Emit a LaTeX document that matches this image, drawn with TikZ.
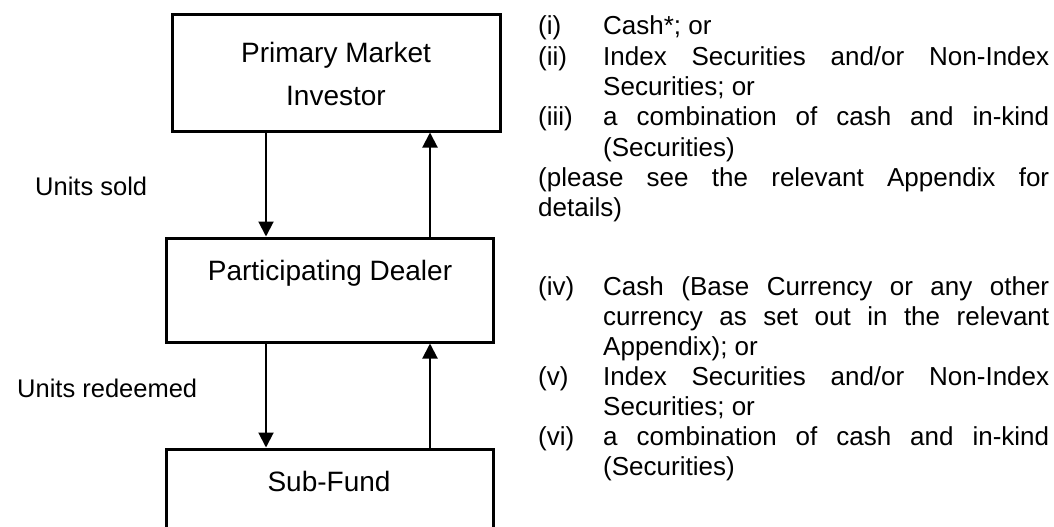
\documentclass[tikz,border=0pt]{standalone}
\usepackage{fontspec}
\setmainfont{Liberation Sans}
\usetikzlibrary{arrows.meta}
\newcommand\jline[1]{\makebox[446pt][s]{#1}}
\newcommand\lline[1]{\makebox[446pt][l]{#1}}
\newcommand\labx[1]{\makebox[65pt][l]{#1}}
\newcommand\indx{\hspace*{65pt}}
\begin{document}
\begin{tikzpicture}[x=1pt,y=-1pt,
  box/.style={draw=black, line width=3pt, rectangle, inner sep=0pt},
  boxtext/.style={font=\fontsize{28}{42}\selectfont, inner sep=0pt, anchor=base},
  lbl/.style={font=\fontsize{25.5}{30}\selectfont, inner sep=0pt, anchor=base west},
  opts/.style={font=\fontsize{26}{30.3}\selectfont, inner sep=0pt, anchor=base west},
  arr/.style={line width=2pt, -{Triangle[length=15pt,width=15pt]}}]
\useasboundingbox (0,0) rectangle (1054,527);
\clip (0,0) rectangle (1054,527);
% boxes
\node[box, minimum width=328pt, minimum height=116pt] (pm) at (336,73) {};
\node[box, minimum width=327pt, minimum height=104pt] (pd) at (329.5,290) {};
\node[box, minimum width=327pt, minimum height=111pt] (sf) at (329.5,504.5) {};
% box texts
\node[boxtext] (pmt1) at (336,63) {Primary Market};
\node[boxtext] (pmt2) at (336,105) {Investor};
\node[boxtext] (pdt) at (330,280) {Participating Dealer};
\node[boxtext] (sft) at (329,491) {Sub-Fund};
% arrow columns
\coordinate (dn) at (266,0);
\coordinate (up) at (430,0);
\draw[arr] (pm.south -| dn) -- (pd.north -| dn);
\draw[arr] (pd.north -| up) -- (pm.south -| up);
\draw[arr] (pd.south -| dn) -- (sf.north -| dn);
\draw[arr] (sf.north -| up) -- (pd.south -| up);
% side labels
\node[lbl] (sold) at (35,195) {Units sold};
\node[lbl] (redeemed) at (17,397) {Units redeemed};
% right texts
\node[opts] (opt1) at (538,35) {\parbox[t]{511pt}{\fontsize{26}{30.3}\selectfont
\labx{(i)}\lline{Cash*; or}\\
\labx{(ii)}\jline{Index Securities and/or Non-Index}\\
\indx\lline{Securities; or}\\
\labx{(iii)}\jline{a combination of cash and in-kind}\\
\indx\lline{(Securities)}\\
\makebox[511pt][s]{(please see the relevant Appendix for}\\
details)}};
\node[opts] (opt2) at (538,295) {\parbox[t]{511pt}{\fontsize{26}{30}\selectfont
\labx{(iv)}\jline{Cash (Base Currency or any other}\\
\indx\jline{currency as set out in the relevant}\\
\indx\lline{Appendix); or}\\
\labx{(v)}\jline{Index Securities and/or Non-Index}\\
\indx\lline{Securities; or}\\
\labx{(vi)}\jline{a combination of cash and in-kind}\\
\indx\lline{(Securities)}}};
\end{tikzpicture}
\end{document}
